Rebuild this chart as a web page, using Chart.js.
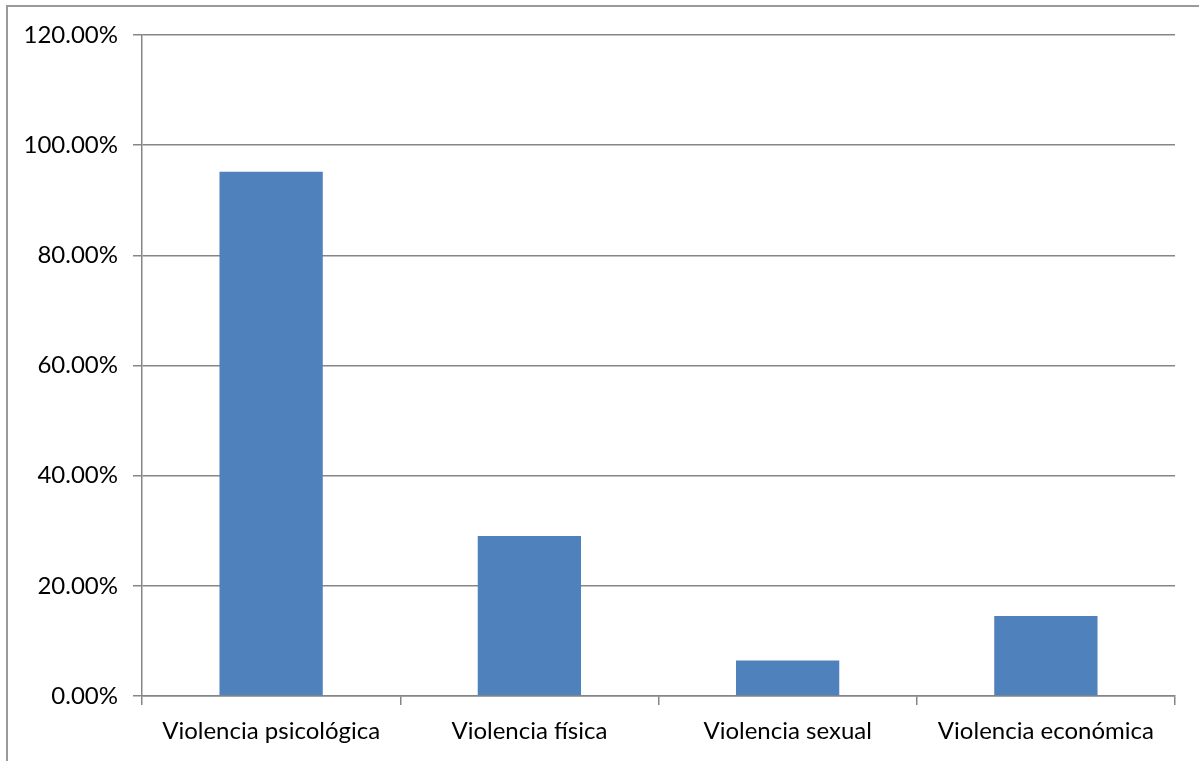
<!DOCTYPE html>
<html>
<head>
<meta charset="utf-8">
<script src="https://cdn.jsdelivr.net/npm/chart.js@4"></script>
<style>
  html, body { margin: 0; padding: 0; background: #fff; overflow: hidden; }
  #frame {
    position: absolute; left: 6px; top: 5px;
    width: 1300px; height: 900px;
    border: 2px solid #9a9a9a; box-sizing: border-box;
  }
  #wrap { position: absolute; left: 0; top: 0; width: 1199px; height: 761px; }
</style>
</head>
<body>
<div id="frame"></div>
<div id="wrap"><canvas id="c" width="1199" height="761"></canvas></div>
<script>
// Tipos de violencia y su porcentaje
const categories = ['Violencia psicológica', 'Violencia física', 'Violencia sexual', 'Violencia económica'];
const values = [95.16, 29.03, 6.45, 14.52];
const yTicks = [0, 20, 40, 60, 80, 100, 120];

const FONT = { family: 'Lato, "Open Sans", sans-serif', size: 24 };
const GRID = '#868686';

new Chart(document.getElementById('c'), {
  type: 'bar',
  data: {
    labels: categories,
    datasets: [{
      data: values,
      backgroundColor: '#4F81BD',
      borderWidth: 0,
      categoryPercentage: 1,
      barPercentage: 0.4
    }]
  },
  options: {
    responsive: false,
    animation: false,
    devicePixelRatio: 1,
    layout: { padding: { top: 35, right: 24, bottom: 0, left: 0 } },
    plugins: { legend: { display: false }, tooltip: { enabled: false } },
    scales: {
      x: {
        offset: true,
        grid: { display: true, offset: true, drawOnChartArea: false, drawTicks: true, tickLength: 9, color: GRID, lineWidth: 1.5 },
        border: { display: true, color: GRID, width: 1.5 },
        ticks: { color: '#000', font: FONT, padding: 12, maxRotation: 0, autoSkip: false },
        afterFit: (s) => { s.height = 761 - 696; }
      },
      y: {
        min: 0, max: 120,
        afterBuildTicks: (s) => { s.ticks = yTicks.map(v => ({ value: v })); },
        grid: { color: GRID, lineWidth: 1.5, drawTicks: true, tickLength: 9 },
        border: { display: true, color: GRID, width: 1.5 },
        ticks: { color: '#000', font: FONT, padding: 15, callback: (v) => v.toFixed(2) + '%' },
        afterFit: (s) => { s.width = 142; }
      }
    }
  }
});
</script>
</body>
</html>
